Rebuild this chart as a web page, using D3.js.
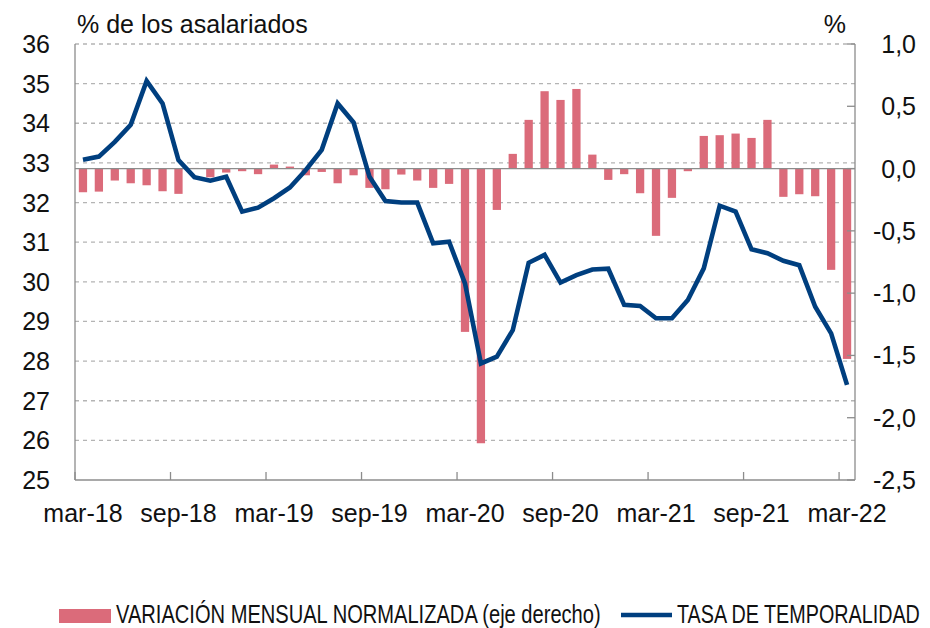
<!DOCTYPE html>
<html>
<head>
<meta charset="utf-8">
<script src="https://cdn.jsdelivr.net/npm/d3@7"></script>
<style>
    body { margin: 0; background: #fff; }
    text { font-family: "Liberation Sans", Arial, sans-serif; fill: #111; }
    .grid line { stroke: #b4b4b4; stroke-dasharray: 4 4; stroke-width: 1.3; }
    .axisLine { stroke: #8c8c8c; stroke-width: 1.3; }
</style>
</head>
<body>
<div id="chart"></div>
<script>
const ctx = {
    W: 930,
    H: 628,
    left: 75,
    right: 855,
    top: 44,
    bottom: 480,
};

// months mar-18 .. mar-22
const months = [
    "mar-18", "abr-18", "may-18", "jun-18", "jul-18", "ago-18", "sep-18", "oct-18", "nov-18", "dic-18", "ene-19", "feb-19",
    "mar-19", "abr-19", "may-19", "jun-19", "jul-19", "ago-19", "sep-19", "oct-19", "nov-19", "dic-19", "ene-20", "feb-20",
    "mar-20", "abr-20", "may-20", "jun-20", "jul-20", "ago-20", "sep-20", "oct-20", "nov-20", "dic-20", "ene-21", "feb-21",
    "mar-21", "abr-21", "may-21", "jun-21", "jul-21", "ago-21", "sep-21", "oct-21", "nov-21", "dic-21", "ene-22", "feb-22",
    "mar-22"
];
const tickMonths = ["mar-18", "sep-18", "mar-19", "sep-19", "mar-20", "sep-20", "mar-21", "sep-21", "mar-22"];

// tasa de temporalidad (left axis, %)
const tasa = [
    33.08, 33.16, 33.53, 33.96, 35.07, 34.50, 33.07, 32.64, 32.55, 32.65, 31.77, 31.87,
    32.11, 32.38, 32.82, 33.33, 34.50, 34.02, 32.65, 32.04, 32.00, 32.00, 30.97, 31.01,
    29.96, 27.94, 28.11, 28.78, 30.48, 30.68, 29.98, 30.17, 30.31, 30.33, 29.42, 29.39,
    29.08, 29.08, 29.54, 30.34, 31.92, 31.77, 30.82, 30.72, 30.53, 30.42, 29.37, 28.70,
    27.40
];

// variacion mensual normalizada (right axis)
const variacion = [
    -0.19, -0.185, -0.096, -0.118, -0.134, -0.182, -0.203, 0.005, -0.07, -0.032, -0.021, -0.045,
    0.032, 0.016, -0.054, -0.027, -0.118, -0.054, -0.155, -0.166, -0.048, -0.096, -0.155, -0.123,
    -1.311, -2.205, -0.332, 0.118, 0.391, 0.621, 0.551, 0.639, 0.112, -0.091, -0.045, -0.198,
    -0.54, -0.235, -0.021, 0.262, 0.268, 0.281, 0.246, 0.391, -0.227, -0.206, -0.222, -0.813,
    -1.528
];

const leftTicks = [25, 26, 27, 28, 29, 30, 31, 32, 33, 34, 35, 36];
const rightTicks = [-2.5, -2.0, -1.5, -1.0, -0.5, 0.0, 0.5, 1.0];

const BAR_COLOR = "#db6b7a";
const LINE_COLOR = "#003f7f";

// squeeze a text horizontally so it spans the given width (condensed look)
function fitText(sel, x0, width) {
    const natural = sel.node().getComputedTextLength();
    const k = width / natural;
    sel.attr("x", 0).attr("transform", `translate(${x0},0) scale(${k},1)`);
}

function drawChart() {
    const svg = d3.select("#chart").append("svg")
        .attr("width", ctx.W)
        .attr("height", ctx.H);

    const x = d3.scaleBand().domain(months).range([ctx.left, ctx.right]).paddingInner(0.48).paddingOuter(0.24);
    const xs = d3.scaleBand().domain(months).range([ctx.left, ctx.right]);
    const yL = d3.scaleLinear().domain([25, 36]).range([ctx.bottom, ctx.top]);
    const yR = d3.scaleLinear().domain([-2.5, 1.0]).range([ctx.bottom, ctx.top]);

    // dashed grid on left axis
    svg.append("g").attr("class", "grid")
        .selectAll("line")
        .data(leftTicks.filter(d => d > 25))
        .join("line")
        .attr("x1", ctx.left).attr("x2", ctx.right)
        .attr("y1", d => yL(d)).attr("y2", d => yL(d));

    // bars
    svg.append("g")
        .selectAll("rect")
        .data(variacion)
        .join("rect")
        .attr("x", (d, i) => x(months[i]))
        .attr("width", x.bandwidth())
        .attr("y", d => yR(Math.max(0, d)))
        .attr("height", d => Math.abs(yR(d) - yR(0)))
        .attr("fill", BAR_COLOR);

    // zero line of right axis
    svg.append("line").attr("class", "axisLine")
        .attr("x1", ctx.left).attr("x2", ctx.right)
        .attr("y1", yR(0)).attr("y2", yR(0));

    // line
    const line = d3.line()
        .x((d, i) => xs(months[i]) + xs.bandwidth() / 2)
        .y(d => yL(d));
    svg.append("path")
        .datum(tasa)
        .attr("d", line)
        .attr("fill", "none")
        .attr("stroke", LINE_COLOR)
        .attr("stroke-width", 4.6)
        .attr("stroke-linejoin", "miter");

    // frame axes
    svg.append("line").attr("class", "axisLine")
        .attr("x1", ctx.left).attr("x2", ctx.left).attr("y1", ctx.top).attr("y2", ctx.bottom);
    svg.append("line").attr("class", "axisLine")
        .attr("x1", ctx.right).attr("x2", ctx.right).attr("y1", ctx.top).attr("y2", ctx.bottom);
    svg.append("line").attr("class", "axisLine")
        .attr("x1", ctx.left).attr("x2", ctx.right).attr("y1", ctx.bottom).attr("y2", ctx.bottom);

    // x ticks & labels
    const xg = svg.append("g");
    xg.selectAll("line")
        .data(tickMonths)
        .join("line")
        .attr("class", "axisLine")
        .attr("x1", d => xs(d)).attr("x2", d => xs(d))
        .attr("y1", ctx.bottom).attr("y2", ctx.bottom - 8);
    xg.selectAll("text")
        .data(tickMonths)
        .join("text")
        .attr("x", d => xs(d) + xs.bandwidth() / 2)
        .attr("y", 522)
        .attr("text-anchor", "middle")
        .style("font-size", "25px")
        .text(d => d);

    // left labels
    svg.append("g").selectAll("text")
        .data(leftTicks)
        .join("text")
        .attr("x", 50)
        .attr("y", d => yL(d) + 9)
        .attr("text-anchor", "end")
        .style("font-size", "25px")
        .text(d => d);

    // right ticks & labels
    const fmt = d => d3.format(".1f")(d).replace(".", ",").replace("\u2212", "-");
    svg.append("g").selectAll("line")
        .data(rightTicks)
        .join("line")
        .attr("class", "axisLine")
        .attr("x1", ctx.right - 8).attr("x2", ctx.right)
        .attr("y1", d => yR(d)).attr("y2", d => yR(d));
    svg.append("g").selectAll("text")
        .data(rightTicks)
        .join("text")
        .attr("x", 916)
        .attr("y", d => yR(d) + 9)
        .attr("text-anchor", "end")
        .style("font-size", "25px")
        .text(d => fmt(d));

    // axis titles
    svg.append("text").attr("x", 77).attr("y", 33)
        .style("font-size", "25px").text("% de los asalariados");
    svg.append("text").attr("x", 846).attr("y", 33).attr("text-anchor", "end")
        .style("font-size", "25px").text("%");

    // legend
    const lg = svg.append("g");
    lg.append("rect").attr("x", 59).attr("y", 609).attr("width", 52).attr("height", 14).attr("fill", BAR_COLOR);
    const t1 = lg.append("text").attr("y", 623)
        .style("font-size", "25px")
        .text("VARIACIÓN MENSUAL NORMALIZADA (eje derecho)");
    fitText(t1, 116, 485);
    lg.append("line").attr("x1", 621).attr("x2", 672).attr("y1", 615).attr("y2", 615)
        .attr("stroke", LINE_COLOR).attr("stroke-width", 4.5);
    const t2 = lg.append("text").attr("y", 623)
        .style("font-size", "25px")
        .text("TASA DE TEMPORALIDAD");
    fitText(t2, 677, 243);
}

drawChart();
</script>
</body>
</html>
